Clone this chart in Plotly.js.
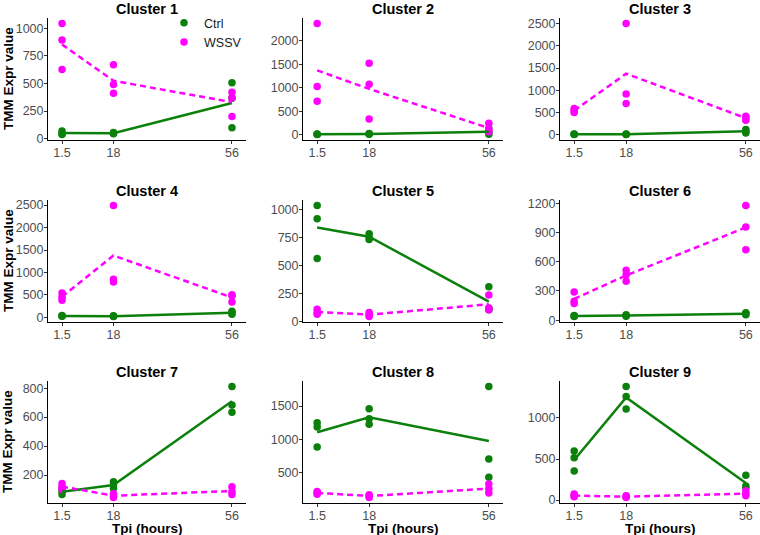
<!DOCTYPE html>
<html><head><meta charset="utf-8">
<script src="https://cdn.plot.ly/plotly-3.0.1.min.js"></script>
<style>html,body{margin:0;padding:0;background:#fff}</style>
</head><body><div id="chart" style="width:760px;height:535px"></div>
<script>
// ---- data ----
const tpiTicks = [1.5, 18, 56];
const tpiLabels = ["1.5", "18", "56"];
const repTpi = [1.5, 1.5, 1.5, 18, 18, 18, 56, 56, 56];
const clusterNames = ["Cluster 1","Cluster 2","Cluster 3","Cluster 4","Cluster 5","Cluster 6","Cluster 7","Cluster 8","Cluster 9"];
const groupNames = ["Ctrl", "WSSV"];

const ctrl1 = [70,45,38, 55,50,45, 506,366,98];
const wssv1 = [1042,893,625, 670,491,411, 420,370,200];
const ctrlMean1 = [51,50,323];
const wssvMean1 = [853,524,330];

const ctrl2 = [15,10,5, 25,15,10, 130,50,10];
const wssv2 = [2367,1025,714, 1519,1074,332, 245,120,60];
const ctrlMean2 = [10,17,63];
const wssvMean2 = [1369,975,142];

const ctrl3 = [20,15,10, 20,15,10, 120,80,40];
const wssv3 = [590,540,505, 2500,920,705, 420,380,330];
const ctrlMean3 = [15,15,80];
const wssvMean3 = [545,1375,377];

const ctrl4 = [40,30,25, 35,25,20, 135,110,70];
const wssv4 = [540,450,380, 2490,850,790, 505,480,340];
const ctrlMean4 = [32,27,105];
const wssvMean4 = [457,1377,442];

const ctrl5 = [1038,920,564, 786,757,733, 312,119,104];
const wssv5 = [110,80,65, 80,59,45, 237,120,105];
const ctrlMean5 = [841,759,178];
const wssvMean5 = [85,61,154];

const ctrl6 = [48,42,38, 55,45,40, 75,65,55];
const wssv6 = [290,195,170, 511,467,399, 1176,955,723];
const ctrlMean6 = [43,47,65];
const wssvMean6 = [218,459,951];

const ctrl7 = [103,85,66, 154,131,108, 811,684,634];
const wssv7 = [142,119,100, 70,55,45, 119,85,66];
const ctrlMean7 = [85,131,710];
const wssvMean7 = [120,57,90];

const ctrl8 = [1251,1187,883, 1460,1311,1226, 1794,704,430];
const wssv8 = [216,195,175, 165,150,125, 326,256,192];
const ctrlMean8 = [1107,1332,976];
const wssvMean8 = [195,147,258];

const ctrl9 = [597,516,355, 1383,1262,1109, 302,173,153];
const wssv9 = [73,52,40, 52,40,32, 113,73,52];
const ctrlMean9 = [489,1251,209];
const wssvMean9 = [55,41,79];

const yTickStep = [250, 500, 500, 500, 250, 300, 200, 500, 500];

// ---- assembly ----
const ctrlReps = [ctrl1,ctrl2,ctrl3,ctrl4,ctrl5,ctrl6,ctrl7,ctrl8,ctrl9];
const wssvReps = [wssv1,wssv2,wssv3,wssv4,wssv5,wssv6,wssv7,wssv8,wssv9];
const ctrlMeans = [ctrlMean1,ctrlMean2,ctrlMean3,ctrlMean4,ctrlMean5,ctrlMean6,ctrlMean7,ctrlMean8,ctrlMean9];
const wssvMeans = [wssvMean1,wssvMean2,wssvMean3,wssvMean4,wssvMean5,wssvMean6,wssvMean7,wssvMean8,wssvMean9];

const GREEN = '#0b800b', MAG = '#ff00ff';
const FONT = 'Liberation Sans, Arial, sans-serif';
const W = 760, H = 535;
const colPx = [[48,246],[303,503],[560,760]];
const rowPx = [[18,140],[200,322],[381,503]];

const traces = [];
const layout = {
  width: W, height: H,
  margin: {l:0, r:0, t:0, b:0},
  paper_bgcolor: '#fff', plot_bgcolor: '#fff',
  showlegend: true,
  legend: {x: 164/W, y: 1 - 8/H, xanchor: 'left', yanchor: 'top',
           bgcolor: 'rgba(0,0,0,0)', borderwidth: 0,
           font: {family: FONT, size: 12.5, color: '#1a1a1a'},
           itemwidth: 30, tracegroupgap: 0},
  annotations: []
};

for (let i = 0; i < 9; i++) {
  const s = i === 0 ? '' : String(i + 1);
  const col = i % 3, row = Math.floor(i / 3);
  const xa = 'x' + s, ya = 'y' + s;

  traces.push({type:'scatter', mode:'markers', x: repTpi, y: ctrlReps[i], xaxis: xa, yaxis: ya,
    name: groupNames[0], legendgroup: 'c', showlegend: i === 0,
    marker: {color: GREEN, size: 7.5}, hoverinfo: 'skip'});
  traces.push({type:'scatter', mode:'markers', x: repTpi, y: wssvReps[i], xaxis: xa, yaxis: ya,
    name: groupNames[1], legendgroup: 'w', showlegend: i === 0,
    marker: {color: MAG, size: 7.5}, hoverinfo: 'skip'});
  traces.push({type:'scatter', mode:'lines', x: tpiTicks, y: ctrlMeans[i], xaxis: xa, yaxis: ya,
    showlegend: false, line: {color: GREEN, width: 2.5}, hoverinfo: 'skip'});
  traces.push({type:'scatter', mode:'lines', x: tpiTicks, y: wssvMeans[i], xaxis: xa, yaxis: ya,
    showlegend: false, line: {color: MAG, width: 2.5, dash: '6px,4px'}, hoverinfo: 'skip'});

  const all = ctrlReps[i].concat(wssvReps[i], ctrlMeans[i], wssvMeans[i]);
  const lo = Math.min(...all), hi = Math.max(...all), pad = 0.05 * (hi - lo);

  const xd = [colPx[col][0] / W, colPx[col][1] / W];
  const yd = [1 - rowPx[row][1] / H, 1 - rowPx[row][0] / H];
  const common = {showline: true, linecolor: '#000', linewidth: 1, ticks: 'outside', ticklen: 3,
    tickcolor: '#333', tickwidth: 1, showgrid: false, zeroline: false, fixedrange: true,
    ticklabelstandoff: -2,
    tickfont: {family: FONT, size: 12.5, color: '#4d4d4d'}};
  layout['xaxis' + s] = Object.assign({domain: xd, anchor: ya, range: [-3, 60.5],
    tickmode: 'array', tickvals: tpiTicks, ticktext: tpiLabels}, common);
  layout['yaxis' + s] = Object.assign({domain: yd, anchor: xa, range: [lo - pad, hi + pad],
    tick0: 0, dtick: yTickStep[i]}, common);

  layout.annotations.push({text: clusterNames[i], xref: 'paper', yref: 'paper',
    x: (xd[0] + xd[1]) / 2, y: yd[1], yshift: -1, xanchor: 'center', yanchor: 'bottom', showarrow: false,
    font: {family: FONT, size: 14.5, color: '#000', weight: 'bold'}});
  if (col === 0) {
    layout.annotations.push({text: 'TMM Expr value', xref: 'paper', yref: 'paper',
      x: 8 / W, y: (yd[0] + yd[1]) / 2, xanchor: 'center', yanchor: 'middle', textangle: -90,
      showarrow: false, font: {family: FONT, size: 13.5, color: '#000', weight: 'bold'}});
  }
  if (row === 2) {
    layout.annotations.push({text: 'Tpi (hours)', xref: 'paper', yref: 'paper',
      x: (xd[0] + xd[1]) / 2, y: 1 - 528 / H, xanchor: 'center', yanchor: 'middle',
      showarrow: false, font: {family: FONT, size: 13.5, color: '#000', weight: 'bold'}});
  }
}

Plotly.newPlot('chart', traces, layout, {staticPlot: true, displayModeBar: false});
</script>
</body></html>
